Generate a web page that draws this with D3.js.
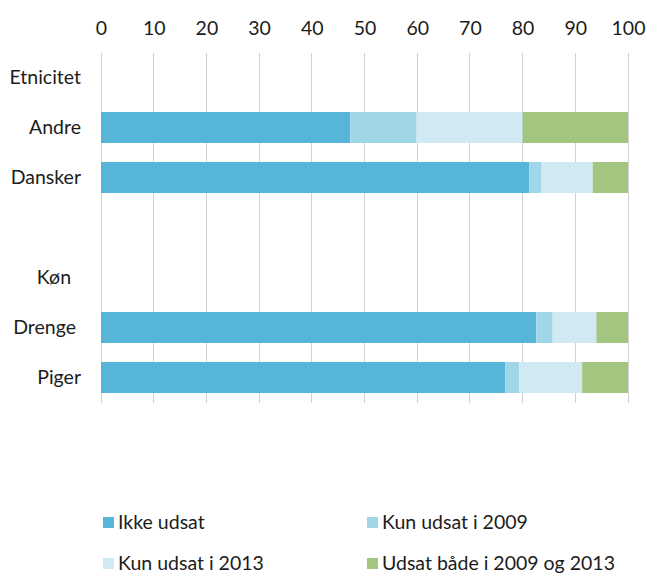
<!DOCTYPE html>
<html>
<head>
<meta charset="utf-8">
<script src="https://cdn.jsdelivr.net/npm/d3@7/dist/d3.min.js"></script>
<style>
  html, body { margin: 0; padding: 0; background: #ffffff; }
  svg { display: block; font-family: Lato, "Open Sans", sans-serif; }
</style>
</head>
<body>
<svg id="chart" width="646" height="573"></svg>
<script>
// Rows of the chart (group headers and blank spacer rows have no bars)
const categories = ["Etnicitet", "Andre", "Dansker", "", "Køn\u00a0\u00a0", "Drenge\u00a0", "Piger"];
const rowKeys = ["Etnicitet", "Andre", "Dansker", "blank", "Køn", "Drenge", "Piger"];

const seriesNames = ["Ikke udsat", "Kun udsat i 2009", "Kun udsat i 2013", "Udsat både i 2009 og 2013"];
const ikkeUdsat   = [null, 47.3, 81.3, null, null, 82.6, 76.7];
const kun2009     = [null, 12.6,  2.3, null, null,  3.1,  2.7];
const kun2013     = [null, 20.1,  9.7, null, null,  8.3, 11.9];
const begge       = [null, 20.0,  6.7, null, null,  6.0,  8.7];
const xTicks = [0, 10, 20, 30, 40, 50, 60, 70, 80, 90, 100];

const colors = ["#57b5d8", "#a1d6e8", "#d0e9f3", "#a3c57f"];
const FONT = 19.5;
const TEXT = "#1c1c1c";

const svg = d3.select("#chart");
const margin = { left: 101, top: 52.5 };

const x = d3.scaleLinear().domain([0, 100]).range([margin.left, 628]);
const y = d3.scaleBand().domain(rowKeys).range([margin.top, 402.5]).paddingInner(0.38).paddingOuter(0.19);

// Vertical gridlines
svg.append("g")
  .selectAll("line")
  .data(xTicks)
  .join("line")
  .attr("x1", d => x(d)).attr("x2", d => x(d))
  .attr("y1", margin.top).attr("y2", 402.5)
  .attr("stroke", "#d0d0d0")
  .attr("stroke-width", 1)
  .attr("shape-rendering", "crispEdges");

// Top axis labels
const xAxis = d3.axisTop(x).tickValues(xTicks).tickSize(0).tickPadding(0);
const gx = svg.append("g").attr("transform", "translate(0,35)").call(xAxis);
gx.select(".domain").remove();
gx.selectAll("text")
  .attr("font-family", "Lato, 'Open Sans', sans-serif")
  .attr("font-size", FONT)
  .attr("fill", TEXT);

// Stack the series per row
const rows = rowKeys.map((k, i) => ({
  key: k,
  values: [ikkeUdsat[i], kun2009[i], kun2013[i], begge[i]]
}));
const stackData = rows.filter(r => r.values[0] !== null).map(r => {
  const o = { key: r.key };
  seriesNames.forEach((s, j) => o[s] = r.values[j]);
  return o;
});
const stacked = d3.stack().keys(seriesNames)(stackData);

svg.append("g")
  .selectAll("g")
  .data(stacked)
  .join("g")
  .attr("fill", (d, i) => colors[i])
  .selectAll("rect")
  .data(d => d)
  .join("rect")
  .attr("x", d => x(d[0]))
  .attr("width", d => x(d[1]) - x(d[0]))
  .attr("y", d => y(d.data.key))
  .attr("height", y.bandwidth());

// Category labels on the left
const yAxis = d3.axisLeft(y).tickSize(0).tickPadding(20).tickFormat((d, i) => categories[i]);
const gy = svg.append("g").attr("transform", `translate(${margin.left},0)`).call(yAxis);
gy.select(".domain").remove();
gy.selectAll("text")
  .attr("font-family", "Lato, 'Open Sans', sans-serif")
  .attr("font-size", FONT)
  .attr("fill", TEXT)
  .style("white-space", "pre");

// Legend, two columns by two rows
const legendPos = [
  { lx: 103, ly: 517 }, { lx: 367, ly: 517 },
  { lx: 103, ly: 558 }, { lx: 367, ly: 558 }
];
const legend = svg.append("g")
  .selectAll("g")
  .data(seriesNames)
  .join("g")
  .attr("transform", (d, i) => `translate(${legendPos[i].lx},${legendPos[i].ly})`);
legend.append("rect")
  .attr("width", 11).attr("height", 11)
  .attr("fill", (d, i) => colors[i]);
legend.append("text")
  .attr("x", 15).attr("y", 12)
  .attr("font-size", FONT)
  .attr("fill", TEXT)
  .text(d => d);
</script>
</body>
</html>
